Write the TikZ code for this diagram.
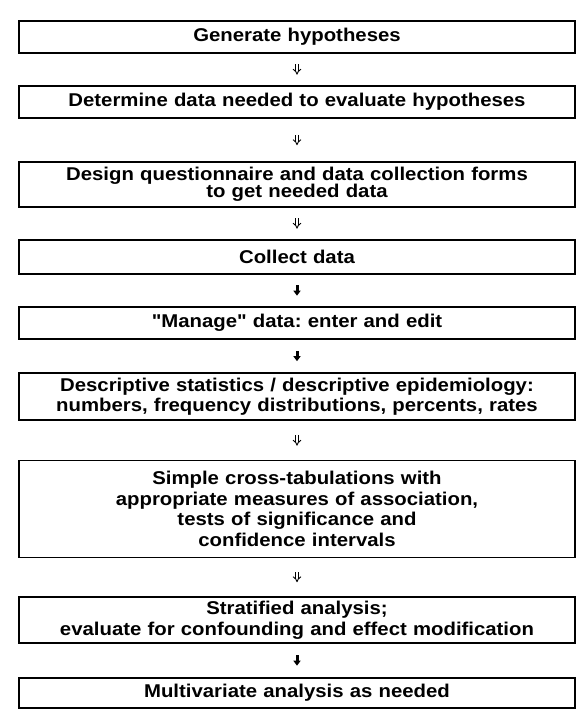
\documentclass[tikz,border=0pt]{standalone}
\usepackage{fontspec}
\usetikzlibrary{arrows.meta}
\newfontfamily\boxfont{Liberation Sans}[FakeStretch=1.1]
\begin{document}
\frenchspacing
\begin{tikzpicture}[x=1pt,y=-1pt,
  stage/.style={draw, line width=1.6pt, minimum width=556pt, inner sep=0pt,
    text width=550pt, align=center,
    font=\boxfont\bfseries\fontsize{18.5}{20.5}\selectfont},
  dblarrow/.style={double, double distance=2pt, line width=0.9pt,
    -{Implies[length=4pt]}, shorten <=#1, shorten >=#1},
  solidarrow/.style={line width=3pt,
    -{Triangle[length=5pt,width=7pt]}, shorten <=#1, shorten >=#1}]
\useasboundingbox (0,0) rectangle (588,720);
\node[stage, minimum height=32pt] (s1) at (297,37) {Generate hypotheses};
\node[stage, minimum height=32pt] (s2) at (297,102) {Determine data needed to evaluate hypotheses};
\node[stage, minimum height=45pt] (s3) at (297,184.5) {Design questionnaire and data collection forms\\[-3pt]to get needed data};
\node[stage, minimum height=34pt] (s4) at (297,257) {Collect data};
\node[stage, minimum height=32pt] (s5) at (297,323) {"Manage" data: enter and edit};
\node[stage, minimum height=47pt] (s6) at (297,396.5) {Descriptive statistics / descriptive epidemiology:\\numbers, frequency distributions, percents, rates};
\node[stage, minimum height=97pt] (s7) at (297,509) {Simple cross-tabulations with\\appropriate measures of association,\\tests of significance and\\confidence intervals};
\node[stage, minimum height=46pt] (s8) at (297,620) {Stratified analysis;\\evaluate for confounding and effect modification};
\node[stage, minimum height=30pt] (s9) at (297,693) {Multivariate analysis as needed};
\draw[dblarrow=10.5pt] (s1) -- (s2);
\draw[dblarrow=16pt] (s2) -- (s3);
\draw[dblarrow=10.5pt] (s3) -- (s4);
\draw[solidarrow=10.5pt] (s4) -- (s5);
\draw[solidarrow=11pt] (s5) -- (s6);
\draw[dblarrow=14pt] (s6) -- (s7);
\draw[dblarrow=14pt] (s7) -- (s8);
\draw[solidarrow=11.5pt] (s8) -- (s9);
\end{tikzpicture}
\end{document}
